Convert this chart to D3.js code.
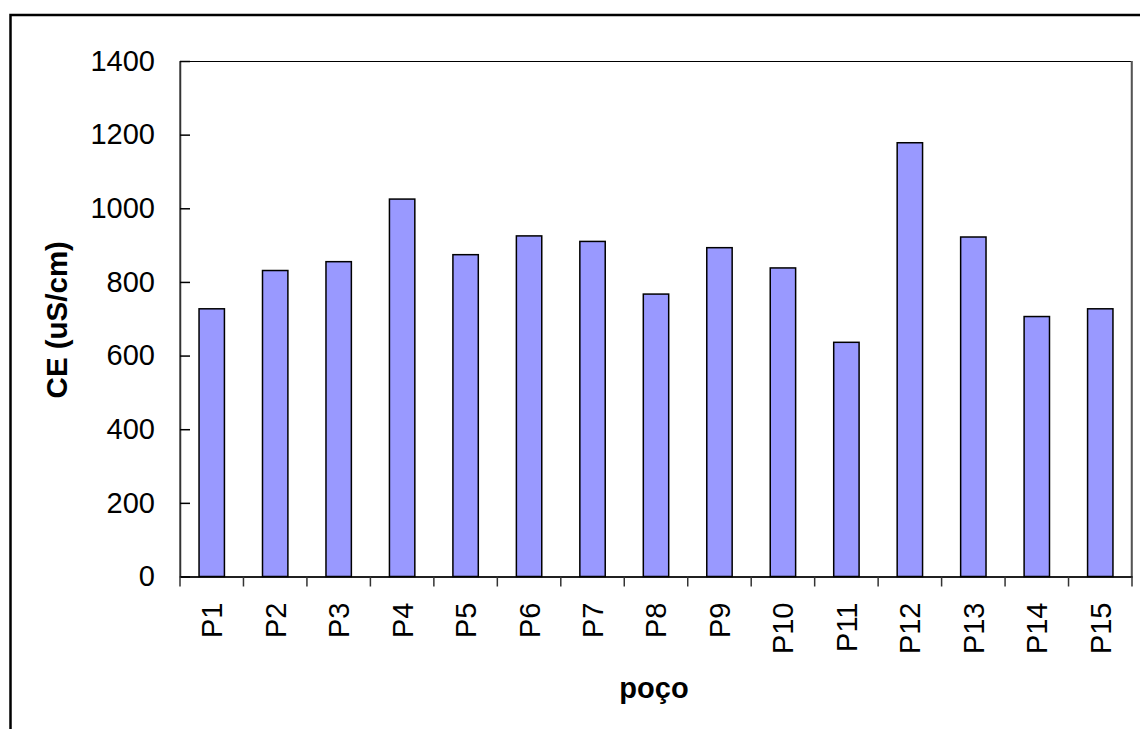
<!DOCTYPE html>
<html>
<head>
<meta charset="utf-8">
<script src="https://cdn.jsdelivr.net/npm/d3@7"></script>
<style>
  html, body { margin: 0; padding: 0; background: #fff; }
  svg { display: block; }
  text { font-family: "Liberation Sans", Arial, sans-serif; fill: #000; }
</style>
</head>
<body>
<svg id="chart" width="1140" height="729"></svg>
<script>
const categories = ["P1","P2","P3","P4","P5","P6","P7","P8","P9","P10","P11","P12","P13","P14","P15"];
const values = [727, 831, 855, 1025, 874, 925, 910, 767, 893, 838, 636, 1178, 922, 706, 727];
const yTicks = [0, 200, 400, 600, 800, 1000, 1200, 1400];
const yTitle = "CE (uS/cm)";
const xTitle = "poço";

const svg = d3.select("#chart");
const plot = { left: 180, top: 61, right: 1132, bottom: 576.5 };

// outer chart border (extends past window right/bottom)
svg.append("rect")
  .attr("x", 10.5).attr("y", 15).attr("width", 1140).attr("height", 740)
  .attr("fill", "#fff").attr("stroke", "#000").attr("stroke-width", 2.5);

const x = d3.scaleBand().domain(categories).range([plot.left, plot.right]).paddingInner(0).paddingOuter(0);
const y = d3.scaleLinear().domain([0, 1400]).range([plot.bottom, plot.top]);

// plot area border
svg.append("rect")
  .attr("x", plot.left).attr("y", plot.top + 0.5)
  .attr("width", plot.right - plot.left).attr("height", plot.bottom - plot.top)
  .attr("fill", "none").attr("stroke", "#000").attr("stroke-width", 1);
svg.append("line")
  .attr("x1", plot.right - 0.5).attr("x2", plot.right - 0.5)
  .attr("y1", plot.top).attr("y2", plot.bottom)
  .attr("stroke", "#555").attr("stroke-width", 1.5);

// bars
const barW = x.bandwidth() / 2.5;
svg.append("g").selectAll("rect").data(categories).join("rect")
  .attr("x", (d) => x(d) + (x.bandwidth() - barW) / 2)
  .attr("y", (d, i) => y(values[i]))
  .attr("width", barW)
  .attr("height", (d, i) => y(0) - y(values[i]))
  .attr("fill", "#9999FF")
  .attr("stroke", "#000")
  .attr("stroke-width", 1.5);

// y axis
const yAxis = d3.axisLeft(y).tickValues(yTicks).tickFormat(d3.format("d"))
  .tickSizeInner(-10).tickSizeOuter(0).tickPadding(25);
const gy = svg.append("g").attr("transform", `translate(${plot.left},0)`).call(yAxis);
gy.select(".domain").attr("stroke", "#333").attr("stroke-width", 1.5);
gy.selectAll(".tick line").attr("stroke", "#000").attr("stroke-width", 1.5);
gy.selectAll(".tick text").attr("font-size", 29).attr("font-family", "Liberation Sans, Arial, sans-serif").attr("fill", "#000");

// x axis
const xAxis = d3.axisBottom(x).tickSize(0).tickPadding(0);
const gx = svg.append("g").attr("transform", `translate(0,${plot.bottom})`).call(xAxis);
gx.select(".domain").attr("stroke", "#000").attr("stroke-width", 1.5);
gx.selectAll(".tick text")
  .attr("font-size", 29).attr("font-family", "Liberation Sans, Arial, sans-serif").attr("fill", "#000")
  .attr("text-anchor", "end")
  .attr("transform", "rotate(-90)")
  .attr("x", -26).attr("y", 0).attr("dy", "0.36em");
// category boundary tick marks
const boundaries = categories.map((c) => x(c)).concat([plot.right]);
svg.append("g").selectAll("line").data(boundaries).join("line")
  .attr("x1", (d) => d).attr("x2", (d) => d)
  .attr("y1", plot.bottom).attr("y2", plot.bottom + 10)
  .attr("stroke", "#333").attr("stroke-width", 1.5);

// axis titles
svg.append("text")
  .attr("transform", `translate(67,${(plot.top + plot.bottom) / 2 + 1}) rotate(-90)`)
  .attr("text-anchor", "middle")
  .attr("font-size", 29.5).attr("font-weight", "bold")
  .text(yTitle);
svg.append("text")
  .attr("x", (plot.left + plot.right) / 2 - 2).attr("y", 698)
  .attr("text-anchor", "middle")
  .attr("font-size", 29).attr("font-weight", "bold")
  .text(xTitle);
</script>
</body>
</html>
